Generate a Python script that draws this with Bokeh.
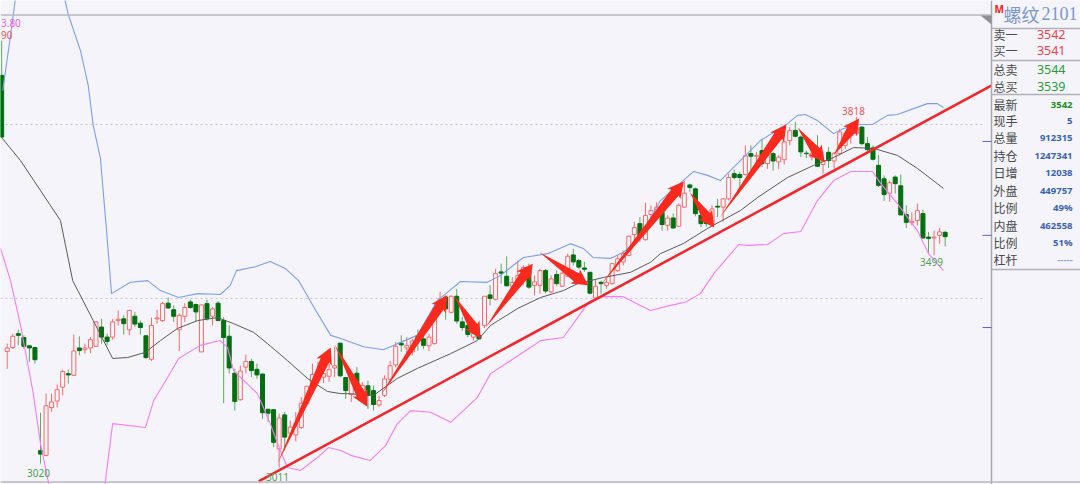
import math
from bokeh.plotting import figure
from bokeh.embed import file_html
from bokeh.resources import INLINE
from bokeh.models import ColumnDataSource
from bokeh.core.properties import value

# candle data, in index order starting at -1
opens = [3913,3278,3287,3319,3310,3291,3287,3050,3039,3149,3164,3196,3227,3223,3286,3282,3286,3290,3334,3311,3311,3349,3353,3328,3359,3343,3314,3260,3353,3349,3389,3374,3328,3359,3392,3386,3277,3388,3359,3389,3349,3313,3228,3167,3242,3255,3237,3226,3145,3144,3054,3132,3090,3086,3103,3158,3188,3211,3219,3221,3240,
3297,3218,3179,3228,3188,3199,3188,3155,3177,3214,3247,3297,3286,3277,3315,3307,3291,3296,3379,3403,3368,3405,3346,3338,3311,3315,3338,3408,3398,3461,3451,3428,3434,3449,3464,3430,3430,3464,3415,3455,3428,3451,3500,3487,3470,3460,3401,3437,3430,3434,3464,3484,3499,3547,3572,
3535,3593,3587,3598,3568,3585,3566,3610,3661,3652,3591,3588,3572,3612,3610,3629,3687,3685,3685,3733,3727,3740,3710,3733,3714,3719,3763,3786,3771,3734,3725,3733,3708,3736,3716,3733,3752,3775,3779,3794,3756,3746,3706,3675,3642,3679,3659,3593,3574,3579,3595,3541,3539,3545,3552]
highs = [3993,3296,3319,3328,3315,3292,3288,3137,3181,3181,3202,3236,3236,3317,3313,3296,3311,3348,3353,3319,3353,3372,3361,3374,3369,3349,3315,3356,3374,3392,3402,3384,3365,3389,3397,3388,3386,3397,3380,3394,3357,3338,3238,3246,3271,3261,3250,3227,3146,3146,3135,3139,3119,3139,3173,3198,3250,3254,3238,3250,3288,
3298,3219,3227,3242,3208,3211,3200,3177,3223,3256,3300,3315,3311,3307,3328,3319,3319,3388,3415,3407,3407,3422,3357,3342,3330,3319,3405,3430,3468,3480,3497,3449,3487,3476,3480,3453,3468,3468,3453,3464,3461,3503,3514,3491,3484,3461,3443,3441,3445,3480,3499,3510,3545,3576,3587,
3620,3614,3621,3610,3591,3595,3618,3671,3664,3655,3602,3591,3614,3629,3631,3687,3696,3691,3752,3752,3737,3767,3733,3737,3729,3763,3794,3806,3775,3740,3756,3775,3737,3748,3737,3790,3786,3802,3818,3796,3771,3752,3730,3683,3671,3683,3685,3614,3598,3618,3604,3553,3556,3562,3555]
lows = [3771,3238,3284,3292,3284,3254,3250,3020,3037,3139,3149,3177,3204,3223,3269,3273,3274,3288,3296,3292,3305,3338,3317,3315,3334,3317,3261,3256,3342,3346,3376,3346,3279,3346,3376,3346,3277,3349,3338,3348,3159,3227,3142,3165,3227,3219,3215,3123,3116,3058,3011,3050,3081,3071,3100,3156,3185,3204,3205,3208,3219,
3219,3169,3162,3177,3181,3146,3142,3150,3173,3204,3242,3277,3257,3269,3280,3284,3279,3294,3372,3351,3365,3342,3326,3311,3303,3305,3332,3384,3395,3434,3428,3407,3430,3430,3422,3407,3411,3412,3412,3428,3426,3449,3476,3468,3461,3409,3399,3411,3422,3432,3461,3476,3497,3533,3530,
3533,3585,3579,3556,3556,3560,3564,3608,3645,3589,3564,3565,3568,3587,3576,3625,3673,3656,3683,3694,3706,3702,3698,3694,3698,3708,3752,3771,3725,3723,3717,3702,3687,3700,3698,3729,3744,3756,3779,3752,3737,3717,3656,3624,3622,3641,3591,3562,3568,3568,3537,3503,3499,3526,3520]
closes = [3771,3286,3313,3315,3290,3286,3259,3042,3153,3162,3190,3232,3224,3279,3280,3286,3305,3346,3311,3301,3346,3352,3342,3372,3341,3333,3264,3338,3355,3388,3378,3359,3361,3379,3379,3369,3385,3353,3376,3349,3310,3240,3163,3233,3255,3234,3224,3137,3136,3069,3125,3081,3104,3112,3159,3198,3225,3223,3227,3236,3245,
3222,3188,3213,3188,3200,3177,3156,3165,3215,3245,3290,3293,3292,3302,3303,3292,3311,3376,3399,3376,3405,3348,3333,3317,3319,3307,3405,3400,3457,3458,3429,3437,3453,3471,3426,3438,3464,3417,3445,3434,3458,3497,3484,3472,3467,3412,3428,3434,3437,3480,3491,3503,3543,3563,3541,
3591,3602,3610,3570,3585,3562,3614,3642,3655,3595,3572,3572,3606,3610,3629,3678,3678,3678,3728,3727,3729,3710,3729,3716,3725,3760,3786,3773,3737,3733,3734,3704,3717,3717,3734,3783,3779,3783,3793,3756,3742,3720,3660,3639,3666,3664,3592,3575,3577,3602,3539,3538,3541,3553,3542]
first_index = -1

# upper band
upper_i = [-0.8,0.8,1.9,6,9.6,11,13.2,14.6,15.5,16.8,17.9,18.8,22.2,25.3,27.6,30.9,34.3,38.4,40.2,41.3,44.7,47.4,50.1,52.5,55.6,58.3,60.1,64.2,67.8,70.3,73.9,77.5,79.3,81.7,86.5,88.9,93,97.4,101.5,103.8,105.6,108.7,111,114.1,117.7,121.8,123.7,126.2,128.5,132.1,135.7,140.6,142.4,143.8,146,148.9,150.7,153.7,155.9,158.6,160.4,165.8,167.6,168.7]
upper_p = [3878,4023,4131,4270,4131,4053,3970,3890,3798,3722,3556,3411,3437,3441,3418,3402,3411,3409,3430,3464,3473,3485,3469,3441,3372,3315,3308,3289,3282,3296,3315,3395,3414,3439,3437,3453,3494,3503,3526,3515,3494,3492,3506,3540,3625,3671,3692,3683,3671,3717,3763,3802,3821,3823,3809,3779,3791,3800,3800,3821,3823,3848,3848,3839]
# middle band
mid_i = [-1,2.4,6,9.6,11.8,15.5,19,21.7,24.9,27.6,30.7,34.3,37.9,40.8,44.4,46.9,50.5,54.1,57.7,60.1,61.3,66,70.3,73.9,79.9,84.7,87.1,92,96.1,100.2,102.8,107.4,112.3,115.9,117.7,121.8,126.2,132.1,135.2,140.6,145.3,148.9,152.5,156.1,160.4,164,168.7]
mid_p = [3770,3717,3648,3579,3441,3349,3262,3264,3276,3303,3331,3349,3356,3342,3322,3296,3257,3216,3186,3181,3181,3177,3216,3239,3273,3303,3338,3377,3402,3418,3434,3448,3460,3483,3503,3526,3561,3602,3632,3678,3706,3724,3747,3745,3729,3699,3653]
# lower band
lower_i = [-1.2,0.6,2.4,4.7,6,7.4,8.7,16.8,17.7,19,24.9,26.4,28.9,30.9,34.8,38.4,39.7,40.8,45.1,47.4,49.2,50.5,52.8,55.9,57.9,60.1,61.9,65.4,68.2,70.3,72.7,76.3,79.9,84.7,87.1,94.3,96.1,100.2,103.3,104.7,106.9,111,115.9,119.5,122.2,124.9,127.3,131.8,133.4,137,139.9,143,146,148.9,152,155.9,157.4,160.4,164,166,168.7]
lower_p = [3515,3441,3338,3181,3066,2979,2889,2889,2981,3112,3103,3165,3218,3262,3292,3303,3287,3234,3181,3112,3050,3011,3004,3034,3057,3050,3039,3027,3062,3112,3142,3138,3115,3172,3227,3287,3303,3310,3365,3391,3404,3404,3372,3384,3391,3411,3457,3524,3522,3524,3549,3554,3625,3671,3692,3692,3664,3618,3556,3503,3464]

# hand-drawn annotations
trend_i = [45.3, 177.4]
trend_p = [2979, 3890]
arrow_tail_i = [48.7,59,67.3,80.6,86.2,95.9,106.9,123,128.4,142.4,148.9]
arrow_tail_p = [3020,3294,3177,3405,3333,3506,3430,3644,3586,3793,3729]
arrow_head_i = [58.3,64.9,79.3,85.3,94.7,104.7,121.9,127.4,140.4,147.3,153.5]
arrow_head_p = [3287,3151,3407,3308,3480,3430,3669,3563,3800,3713,3814]

grid_prices = [3800, 3400]
right_tick_prices = [3761, 3545, 3333]

panel_labels = ["卖一","买一","总卖","总买","最新","现手","总量","持仓","日增","外盘","比例","内盘","比例","杠杆"]
panel_values = ["3542","3541","3544","3539","3542","5","912315","1247341","12038","449757","49%","462558","51%","-----"]
panel_colors = ["#f2404a","#f2404a","#2f9a3c","#2f9a3c","#1f8a1f"] + ["#3b62ad"]*8 + ["#8aa4d8"]
panel_rows_y = [34,50,69,86,104,120,137,155,172,190,207,225,242,259]
panel_rules_y = [28,60,94,269]

# pixel helpers for page furniture
W, H = 1080, 484
PX_PER_I = 5.55
PX_PER_P = 1 / 2.3
def ix(x): return (x - 6.7) / PX_PER_I
def py(y): return 3800 + (124 - y) / PX_PER_P

BG = "#f4f4fa"
p = figure(width=W, height=H, output_backend="svg", toolbar_location=None,
           x_range=(ix(0), ix(W)), y_range=(py(H), py(0)),
           background_fill_color=BG, border_fill_color=BG, min_border=0,
           outline_line_color=None, x_axis_location=None, y_axis_location=None)
p.xgrid.visible = False
p.ygrid.visible = False

# grid
n = len(grid_prices)
p.segment([ix(0)]*n, grid_prices, [ix(985)]*n, grid_prices, line_color="#c4c4c8", line_width=1, line_dash="2 3")

# candles
rows = [(first_index + k, o, h, l, c) for k, (o, h, l, c) in enumerate(zip(opens, highs, lows, closes))]
up = [r for r in rows if r[4] >= r[1]]
dn = [r for r in rows if r[4] < r[1]]
src_up = ColumnDataSource(dict(x=[r[0] for r in up], h=[r[2] for r in up], l=[r[3] for r in up],
                               top=[r[4] for r in up], bottom=[r[1] for r in up]))
src_dn = ColumnDataSource(dict(x=[r[0] for r in dn], h=[r[2] for r in dn], l=[r[3] for r in dn],
                               top=[r[1] for r in dn], bottom=[r[4] for r in dn]))
p.segment("x", "h", "x", "l", source=src_dn, line_color="#5fa865", line_width=1)
p.vbar("x", 0.72, "bottom", "top", source=src_dn, fill_color="#006f10", line_color="#006f10", line_width=1)
p.segment("x", "h", "x", "l", source=src_up, line_color="#f76a6a", line_width=1)
p.vbar("x", 0.72, "bottom", "top", source=src_up, fill_color=BG, line_color="#f76a6a", line_width=1)

# bands
p.line(upper_i, upper_p, line_color="#7d9fe8", line_width=1.1)
p.line(mid_i, mid_p, line_color="#5a5a5a", line_width=1)
p.line(lower_i, lower_p, line_color="#f77cf5", line_width=1.1)

# trend line
p.line(trend_i, trend_p, line_color="#f4252a", line_width=2.5)

# arrows
def arrow_shape(i0, p0, i1, p1):
    x0, y0 = i0 * PX_PER_I, p0 * PX_PER_P
    x1, y1 = i1 * PX_PER_I, p1 * PX_PER_P
    L = math.hypot(x1 - x0, y1 - y0)
    ux, uy = (x1 - x0) / L, (y1 - y0) / L
    nx, ny = -uy, ux
    def pt(a, b):
        return ((x0 + ux * a + nx * b) / PX_PER_I, (y0 + uy * a + ny * b) / PX_PER_P)
    hl = 15.0
    pts = [pt(0, 0), pt(L - hl + 1, 4.8), pt(L - hl - 1, 8.5), pt(L, 0), pt(L - hl - 1, -8.5), pt(L - hl + 1, -4.8)]
    return [a for a, b in pts], [b for a, b in pts]
xs, ys = [], []
for a, b, c, d in zip(arrow_tail_i, arrow_tail_p, arrow_head_i, arrow_head_p):
    sx, sy = arrow_shape(a, b, c, d)
    xs.append(sx); ys.append(sy)
p.patches(xs, ys, fill_color="#fb2a1e", line_color=None)

# right panel
p.quad(left=[ix(991)], right=[ix(W)], bottom=[py(H)], top=[py(0)], fill_color=BG, line_color=None)
p.segment([ix(991)], [py(0)], [ix(991)], [py(H)], line_color="#a8a8ae", line_width=1.5)
n = len(panel_rules_y)
p.segment([ix(991)]*n, [py(y) for y in panel_rules_y], [ix(W)]*n, [py(y) for y in panel_rules_y],
          line_color="#b0b0b6", line_width=1.5)
# chart frame rules and marks
p.segment([ix(0), ix(0)], [py(14.5), py(481.5)], [ix(991), ix(W)], [py(14.5), py(481.5)], line_color="#b8b8be", line_width=1.5)
p.patch([ix(980), ix(991), ix(991)], [py(15), py(15), py(24)], fill_color="#8f8f95", line_color=None)
n = len(right_tick_prices)
p.segment([ix(982)]*n, right_tick_prices, [ix(991)]*n, right_tick_prices, line_color="#5b63c4", line_width=1)

def lab(x, y, text, size, color, font="Noto Sans CJK SC", align="left", style="normal"):
    p.text([ix(x)], [py(y)], text=[text], text_font=value(font), text_font_size=f"{size}px", text_color=color,
           text_align=align, text_baseline="middle", text_font_style=style)

for t, v, c, y, k in zip(panel_labels, panel_values, panel_colors, panel_rows_y, range(len(panel_labels))):
    lab(993, y, t, 12, "#4a4a4a")
    if k < 4:
        lab(1065, y, v, 12.5, c, font="Noto Sans", align="right")
    else:
        lab(1072, y, v, 9.5, c, font="Noto Sans", align="right", style="bold")

lab(994, 8, "M", 10, "#f02020", font="Noto Sans", style="bold")
lab(1003, 13, "螺纹", 18, "#7d97c9")
lab(1041, 13, "2101", 18, "#7d97c9", font="Liberation Serif")

# price notes
lab(853, 110, "3818", 10, "#f2555a", font="Noto Sans", align="center")
lab(931, 261, "3499", 10, "#4f9e58", font="Noto Sans", align="center")
lab(38, 472, "3020", 10, "#4f9e58", font="Noto Sans", align="center")
lab(277, 476, "3011", 10, "#4f9e58", font="Noto Sans", align="center")
lab(0.5, 22, "3.80", 10, "#f060e8", font="Noto Sans", align="left")
lab(0.5, 34, "90", 10, "#f2555a", font="Noto Sans", align="left")

open("out.html", "w").write(file_html(p, INLINE))
